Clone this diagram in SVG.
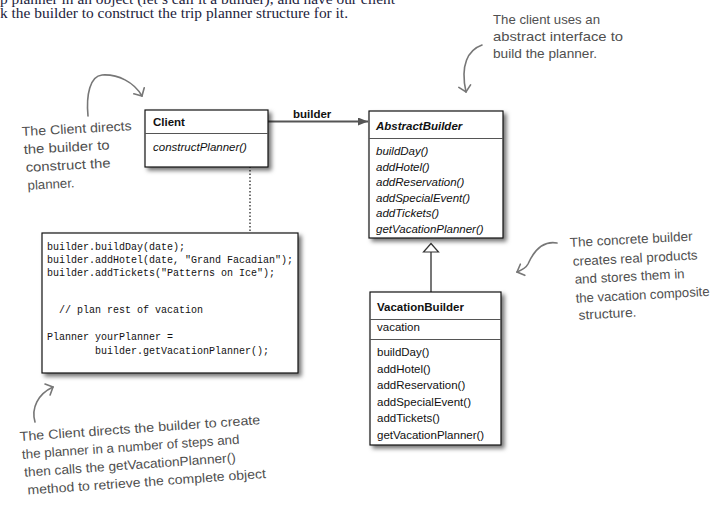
<svg xmlns="http://www.w3.org/2000/svg" width="724" height="513" viewBox="0 0 724 513">
<defs>
<filter id="sh" x="-10%" y="-10%" width="130%" height="130%">
<feDropShadow dx="3" dy="3" stdDeviation="2" flood-color="#000" flood-opacity="0.55"/>
</filter>
<marker id="fill" markerWidth="12" markerHeight="10" refX="10" refY="4" orient="auto" markerUnits="userSpaceOnUse">
<path d="M0,0 L10,4 L0,8 Z" fill="#555"/>
</marker>
<marker id="vee" markerWidth="14" markerHeight="14" refX="7" refY="7" orient="auto" markerUnits="userSpaceOnUse">
<path d="M1,1 L7,7 L1,13" fill="none" stroke="#777" stroke-width="1.6" stroke-linecap="round"/>
</marker>
</defs>
<style>
.box{fill:#fff;stroke:#111;stroke-width:1.2}
.div{stroke:#555;stroke-width:1}
.uml{font-family:"Liberation Sans",Arial,sans-serif;font-size:11.5px;fill:#111}
.b{font-weight:bold}
.i{font-style:italic}
.code{font-family:"Liberation Mono","Courier New",monospace;font-size:10px;fill:#111}
.hand{font-family:"Liberation Sans",Arial,sans-serif;font-size:13px;fill:#505050}
.curve{fill:none;stroke:#777;stroke-width:1.6;stroke-linecap:round}
.top{font-family:"Liberation Serif","Times New Roman",serif;font-size:14px;fill:#1c1c3c}
</style>
<rect width="724" height="513" fill="#fff"/>

<g id="intro">
<text class="top" x="0" y="4" textLength="395" lengthAdjust="spacingAndGlyphs">p planner in an object (let’s call it a builder), and have our client</text>
<text class="top" x="0" y="18" textLength="348" lengthAdjust="spacingAndGlyphs">k the builder to construct the trip planner structure for it.</text>
</g>

<g id="connectors">
<line x1="268" y1="121.5" x2="368" y2="121.5" stroke="#555" stroke-width="1.8" marker-end="url(#fill)"/>
<text class="uml b" x="293" y="118">builder</text>
<line x1="250" y1="156" x2="250" y2="232" stroke="#444" stroke-width="1.5" stroke-dasharray="1.5,2"/>
<line x1="431" y1="252" x2="431" y2="292" stroke="#555" stroke-width="1.6"/>
<polygon points="431,243.5 423.5,252 438.5,252" fill="#fff" stroke="#333" stroke-width="1.2"/>
</g>

<g id="client">
<rect class="box" x="145" y="110" width="123" height="57" filter="url(#sh)"/>
<line class="div" x1="145" y1="133.5" x2="268" y2="133.5"/>
<text class="uml b" x="153" y="126">Client</text>
<text class="uml i" x="153" y="151">constructPlanner()</text>
</g>

<g id="abstractBuilder">
<rect class="box" x="369" y="111" width="134" height="127" filter="url(#sh)"/>
<line class="div" x1="369" y1="138.5" x2="503" y2="138.5"/>
<text class="uml b i" x="376" y="130">AbstractBuilder</text>
<text class="uml i" x="376" y="155">buildDay()</text>
<text class="uml i" x="376" y="170.5">addHotel()</text>
<text class="uml i" x="376" y="186">addReservation()</text>
<text class="uml i" x="376" y="201.5">addSpecialEvent()</text>
<text class="uml i" x="376" y="217">addTickets()</text>
<text class="uml i" x="376" y="232.5">getVacationPlanner()</text>
</g>

<g id="vacationBuilder">
<rect class="box" x="370" y="292" width="131" height="153" filter="url(#sh)"/>
<line class="div" x1="370" y1="319.5" x2="501" y2="319.5"/>
<line class="div" x1="370" y1="339.5" x2="501" y2="339.5"/>
<text class="uml b" x="377" y="311">VacationBuilder</text>
<text class="uml" x="377" y="331">vacation</text>
<text class="uml" x="377" y="356">buildDay()</text>
<text class="uml" x="377" y="372.5">addHotel()</text>
<text class="uml" x="377" y="389">addReservation()</text>
<text class="uml" x="377" y="405.5">addSpecialEvent()</text>
<text class="uml" x="377" y="422">addTickets()</text>
<text class="uml" x="377" y="439">getVacationPlanner()</text>
</g>

<g id="codeBox">
<rect class="box" x="42" y="233" width="256" height="140" filter="url(#sh)"/>
<text class="code" x="47" y="250">builder.buildDay(date);</text>
<text class="code" x="47" y="263">builder.addHotel(date, "Grand Facadian");</text>
<text class="code" x="47" y="275.5">builder.addTickets("Patterns on Ice");</text>
<text class="code" x="59" y="313">// plan rest of vacation</text>
<text class="code" x="47" y="340">Planner yourPlanner =</text>
<text class="code" x="95" y="353.5">builder.getVacationPlanner();</text>
</g>

<g id="noteClient">
<path class="curve" d="M88,116 C86,95 90,76 102,75 C118,74 134,82 142,96" marker-end="url(#vee)"/>
<g transform="rotate(-3 22 136)">
<text class="hand" x="22" y="136" textLength="110" lengthAdjust="spacingAndGlyphs">The Client directs</text>
<text class="hand" x="23" y="154" textLength="86" lengthAdjust="spacingAndGlyphs">the builder to</text>
<text class="hand" x="24" y="172" textLength="85" lengthAdjust="spacingAndGlyphs">construct the</text>
<text class="hand" x="25" y="190" textLength="47" lengthAdjust="spacingAndGlyphs">planner.</text>
</g>
</g>

<g id="noteAbstract">
<path class="curve" d="M482,45 C468,50 460,65 466,92" marker-end="url(#vee)"/>
<text class="hand" x="493" y="24" textLength="107" lengthAdjust="spacingAndGlyphs">The client uses an</text>
<text class="hand" x="493" y="41" textLength="130" lengthAdjust="spacingAndGlyphs">abstract interface to</text>
<text class="hand" x="493" y="58" textLength="104" lengthAdjust="spacingAndGlyphs">build the planner.</text>
</g>

<g id="noteConcrete">
<path class="curve" d="M557,243 C540,240 532,255 528,264 C526,268 522,270 517,272" marker-end="url(#vee)"/>
<g transform="rotate(-3 570 247)">
<text class="hand" x="570" y="247" textLength="123" lengthAdjust="spacingAndGlyphs">The concrete builder</text>
<text class="hand" x="572" y="266" textLength="125" lengthAdjust="spacingAndGlyphs">creates real products</text>
<text class="hand" x="573" y="284" textLength="110" lengthAdjust="spacingAndGlyphs">and stores them in</text>
<text class="hand" x="573" y="303" textLength="134" lengthAdjust="spacingAndGlyphs">the vacation composite</text>
<text class="hand" x="575" y="320" textLength="58" lengthAdjust="spacingAndGlyphs">structure.</text>
</g>
</g>

<g id="noteCode">
<path class="curve" d="M35,422 C31,408 38,394 53,387" marker-end="url(#vee)"/>
<g transform="rotate(-4 20 441)">
<text class="hand" x="20" y="441" textLength="241" lengthAdjust="spacingAndGlyphs">The Client directs the builder to create</text>
<text class="hand" x="21" y="459" textLength="218" lengthAdjust="spacingAndGlyphs">the planner in a number of steps and</text>
<text class="hand" x="22" y="477" textLength="212" lengthAdjust="spacingAndGlyphs">then calls the getVacationPlanner()</text>
<text class="hand" x="24" y="495" textLength="239" lengthAdjust="spacingAndGlyphs">method to retrieve the complete object</text>
</g>
</g>
</svg>
